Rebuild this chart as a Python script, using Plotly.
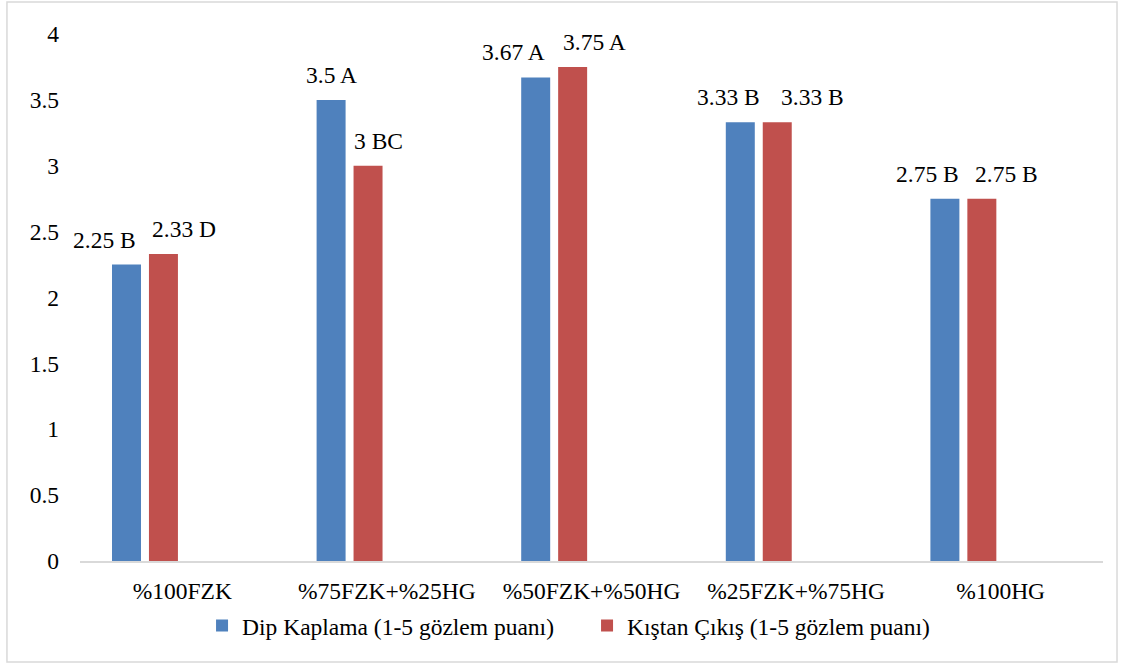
import plotly.graph_objects as go

categories = ["%100FZK", "%75FZK+%25HG", "%50FZK+%50HG", "%25FZK+%75HG", "%100HG"]
dip_values = [2.25, 3.5, 3.67, 3.33, 2.75]
kis_values = [2.33, 3.0, 3.75, 3.33, 2.75]
dip_letters = ["B", "A", "A", "B", "B"]
kis_letters = ["D", "BC", "A", "B", "B"]
dip_name = "Dip Kaplama (1-5 gözlem puanı)"
kis_name = "Kıştan Çıkış (1-5 gözlem puanı)"
y_ticks = [0, 0.5, 1, 1.5, 2, 2.5, 3, 3.5, 4]
y_ticklabels = ["0", "0.5", "1", "1.5", "2", "2.5", "3", "3.5", "4"]

# label horizontal placement (pixels from category centre), as in the original
dip_label_dx = [-78, -55, -78, -68, -73]
kis_label_dx = [2, -8, 3, 16, 6]

BLUE = "#4F81BD"
RED = "#C0504D"
FONT = "Liberation Serif"
FS = 23.5

fig = go.Figure()
fig.add_trace(go.Bar(x=categories, y=dip_values, name=dip_name, marker_color=BLUE,
                     width=0.1417, offset=-0.3436, marker_line_width=0))
fig.add_trace(go.Bar(x=categories, y=kis_values, name=kis_name, marker_color=RED,
                     width=0.1417, offset=-0.163, marker_line_width=0))

annotations = []
for c, v, l, dx in zip(categories, dip_values, dip_letters, dip_label_dx):
    annotations.append(dict(x=c, y=v, text=f"{v:g} {l}", showarrow=False, xshift=dx, yshift=25,
                            yanchor="middle", xanchor="center", font=dict(family=FONT, size=FS, color="#000")))
for c, v, l, dx in zip(categories, kis_values, kis_letters, kis_label_dx):
    annotations.append(dict(x=c, y=v, text=f"{v:g} {l}", showarrow=False, xshift=dx, yshift=25,
                            yanchor="middle", xanchor="center", font=dict(family=FONT, size=FS, color="#000")))

fig.update_layout(
    width=1121, height=664,
    margin=dict(l=80, r=18, t=34, b=103),
    paper_bgcolor="white", plot_bgcolor="white",
    barmode="overlay",
    font=dict(family=FONT, size=FS, color="#000"),
    showlegend=True,
    legend=dict(orientation="h", x=0.1193, xanchor="left", y=-0.123, yanchor="middle",
                entrywidth=340, entrywidthmode="pixels",
                font=dict(family=FONT, size=FS, color="#000"), traceorder="normal"),
    annotations=annotations,
    shapes=[dict(type="rect", xref="paper", yref="paper", x0=-0.0714, x1=1.0137, y0=-0.1917, y1=1.0607,
                 line=dict(color="#D9D9D9", width=1.5), fillcolor="rgba(0,0,0,0)", layer="below")],
)
fig.update_xaxes(type="category", showgrid=False, showline=True, linecolor="#D9D9D9", linewidth=1.5,
                 ticks="", ticklabelstandoff=8, tickfont=dict(family=FONT, size=FS, color="#000"),
                 range=[-0.5, 4.5])
fig.update_yaxes(range=[0, 4], tickvals=y_ticks, ticktext=y_ticklabels, showgrid=False, showline=False,
                 zeroline=False, ticks="", ticklabelstandoff=20,
                 tickfont=dict(family=FONT, size=FS, color="#000"))

fig.write_html("out.html", config={"displayModeBar": False},
               post_script="document.body.style.margin='0';")
